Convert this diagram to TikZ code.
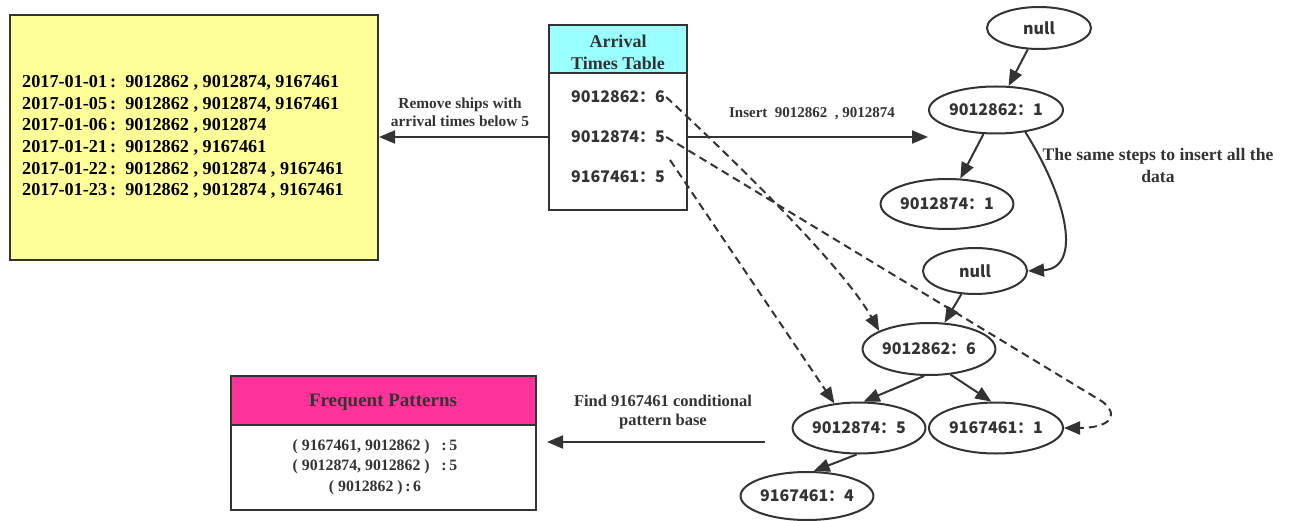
\documentclass[tikz,border=0pt]{standalone}
\usepackage{fontspec}
\setmainfont{Liberation Serif}
\newfontfamily\cjk{Noto Sans CJK SC}
\usetikzlibrary{shapes.geometric,arrows.meta}
\definecolor{lc}{HTML}{333333}
\definecolor{yfill}{HTML}{FFFF99}
\definecolor{cfill}{HTML}{99FFFF}
\definecolor{mfill}{HTML}{FF3399}
\begin{document}
\begin{tikzpicture}[x=1pt,y=-1pt,
  line/.style={draw=lc, line width=2pt},
  arr/.style={line, -{Triangle[length=16pt,width=13pt]}},
  darr/.style={arr, dash pattern=on 8pt off 5pt},
  tnode/.style={ellipse, draw=lc, line width=2pt, inner sep=0pt, font=\cjk\bfseries\fontsize{16}{18}\selectfont, text=lc},
  box/.style={rectangle, draw=lc, line width=2pt, inner sep=0pt},
  lab/.style={font=\bfseries\fontsize{15.4}{18}\selectfont, text=lc, align=center},
  row/.style={font=\cjk\bfseries\fontsize{16}{18}\selectfont, text=lc, inner sep=1pt},
]
\useasboundingbox (0,0) rectangle (1289,521);

% yellow box
\node[box, fill=yfill, minimum width=368pt, minimum height=245pt] (ybox) at (194,137.5) {};
\node[anchor=west, align=left, font=\bfseries\fontsize{18.2}{21.7}\selectfont, inner sep=0pt] (ytext) at (22,137)
 {2017-01-01\,:\ \ 9012862\ ,\ 9012874,\ 9167461\\
  2017-01-05\,:\ \ 9012862\ ,\ 9012874,\ 9167461\\
  2017-01-06\,:\ \ 9012862\ ,\ 9012874\\
  2017-01-21\,:\ \ 9012862\ ,\ 9167461\\
  2017-01-22\,:\ \ 9012862\ ,\ 9012874\ ,\ 9167461\\
  2017-01-23\,:\ \ 9012862\ ,\ 9012874\ ,\ 9167461};

% arrival times table
\node[box, fill=cfill, minimum width=138pt, minimum height=48pt] (thead) at (618,49) {};
\node[font=\bfseries\fontsize{18}{22}\selectfont, text=lc, align=center] (ttitle) at (618,52) {Arrival\\Times Table};
\node[box, fill=white, minimum width=138pt, minimum height=137pt] (tbody) at (618,141.5) {};
\node[row] (r1) at (618,97) {9012862：6};
\node[row] (r2) at (618,137) {9012874：5};
\node[row] (r3) at (618,177) {9167461：5};

% tree nodes
\node[tnode, minimum width=104pt, minimum height=42pt] (null1) at (1039,28) {null};
\node[tnode, minimum width=134pt, minimum height=47pt] (n1) at (996,110) {9012862：1};
\node[tnode, minimum width=132pt, minimum height=50pt] (n2) at (947,204) {9012874：1};
\node[tnode, minimum width=104pt, minimum height=46pt] (null2) at (975,271) {null};
\node[tnode, minimum width=132pt, minimum height=52pt] (m1) at (929,349) {9012862：6};
\node[tnode, minimum width=131pt, minimum height=51pt] (m2) at (859,428) {9012874：5};
\node[tnode, minimum width=134pt, minimum height=51pt] (m3) at (996,428) {9167461：1};
\node[tnode, minimum width=132pt, minimum height=48pt] (m4) at (807,496) {9167461：4};

% frequent patterns
\node[box, fill=mfill, minimum width=305pt, minimum height=49pt] (fhead) at (383,400.5) {};
\node[font=\bfseries\fontsize{19}{20}\selectfont, text=lc] (ftitle) at (383,402) {Frequent Patterns};
\node[box, fill=white, minimum width=305pt, minimum height=85pt] (fbody) at (383,467.5) {};
\node[font=\bfseries\fontsize{15.8}{20.5}\selectfont, text=lc, align=center] (ftext) at (375,467)
 {(\ 9167461,\ 9012862\ )\ \ \ :\,5\\
  (\ 9012874,\ 9012862\ )\ \ \ :\,5\\
  (\ 9012862\ )\,:\,6};

% labels
\node[lab] (lremove) at (460,112) {Remove ships with\\arrival times below 5};
\node[lab, font=\bfseries\fontsize{15}{16}\selectfont] (linsert) at (812,114) {Insert\ \ 9012862\ \ ,\ 9012874};
\node[lab, font=\bfseries\fontsize{17.6}{22}\selectfont] (lsame) at (1158,165) {The same steps to insert all the\\data};
\node[lab, font=\bfseries\fontsize{16.5}{19}\selectfont] (lfind) at (663,412) {Find 9167461 conditional\\pattern base};

% coordinates
\coordinate (d3s) at (670,160);
\coordinate (fs) at (765,442);
\coordinate (fe) at (547,442);

% solid arrows
\draw[arr] (tbody.west |- r2) -- (ybox.east |- r2);
\draw[arr] (tbody.east |- r2) -- (n1.west |- r2);
\draw[arr] (null1) -- (n1);
\draw[arr] (n1) -- (n2);
\draw[arr] (n1.-37) .. controls (1068,200) and (1082,268) .. (null2.east);
\draw[arr] (null2) -- (m1);
\draw[arr] (m1.-100) -- (m2.80);
\draw[arr] (m1.-50) -- (m3.100);
\draw[arr] (m2.-95) -- (m4.75);
\draw[arr] (fs) -- (fe);

% dashed arrows
\draw[darr] (r1.east) .. controls (750,175) and (845,270) .. (m1.160);
\draw[darr] (r2.east) -- (1103,402) .. controls (1122,418) and (1105,428) .. (m3.east);
\draw[darr] (d3s) -- (m2.135);
\end{tikzpicture}
\end{document}
